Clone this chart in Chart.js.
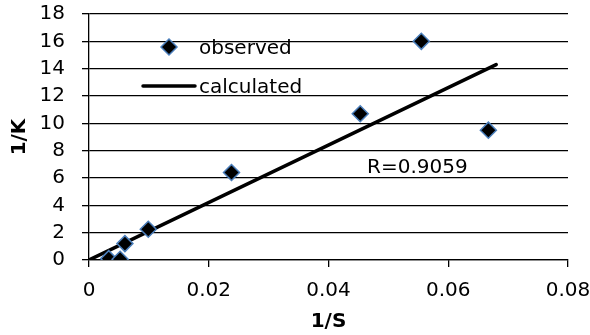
<!DOCTYPE html>
<html>
<head>
<meta charset="utf-8">
<script src="https://cdn.jsdelivr.net/npm/chart.js@4.4.1/dist/chart.umd.min.js"></script>
<style>
  html, body { margin: 0; padding: 0; background: #fff; }
  canvas { display: block; }
</style>
</head>
<body>
<canvas id="chart" width="590" height="335"></canvas>
<script>
// observed points (1/S, 1/K)
const obsX = [0.0033, 0.0052, 0.0060, 0.0099, 0.0238, 0.0453, 0.0555, 0.0667]
const obsY = [0.1, 0.05, 1.2, 2.25, 6.4, 10.7, 16.0, 9.5]
// calculated straight line
const fitX = [0, 0.068]
const fitY = [0, 14.3]
const xTicks = [0, 0.02, 0.04, 0.06, 0.08]
const yTicks = [0, 2, 4, 6, 8, 10, 12, 14, 16, 18]
const rText = "R=0.9059"

Chart.defaults.font.family = "'DejaVu Sans', sans-serif"
Chart.defaults.font.size = 20
Chart.defaults.color = "#000"

// legend + R label drawn inside the plot area
const insideLegend = {
    id: "insideLegend",
    afterDraw(chart) {
        const ctx = chart.ctx
        const obs = chart.data.datasets[0]
        const fit = chart.data.datasets[1]
        ctx.save()
        ctx.font = "20px 'DejaVu Sans', sans-serif"
        ctx.textAlign = "left"
        ctx.textBaseline = "alphabetic"

        // observed symbol
        ctx.fillStyle = obs.pointBackgroundColor
        ctx.strokeStyle = obs.pointBorderColor
        ctx.lineWidth = obs.pointBorderWidth
        Chart.helpers.drawPoint(ctx, {
            pointStyle: "rectRot",
            radius: obs.pointRadius,
            borderWidth: obs.pointBorderWidth
        }, 169, 47)

        ctx.fillStyle = "#000"
        ctx.fillText(obs.label, 199, 54)

        // calculated symbol
        ctx.beginPath()
        ctx.lineCap = "round"
        ctx.strokeStyle = fit.borderColor
        ctx.lineWidth = fit.borderWidth
        ctx.moveTo(143, 86)
        ctx.lineTo(195, 86)
        ctx.stroke()
        ctx.fillText(fit.label, 199, 93)

        ctx.fillText(rText, 367, 173)
        ctx.restore()
    }
}

new Chart(document.getElementById("chart"), {
    type: "scatter",
    data: {
        datasets: [{
            label: "observed",
            data: obsX.map((x, i) => ({x: x, y: obsY[i]})),
            pointStyle: "rectRot",
            pointRadius: 8,
            pointHoverRadius: 8,
            pointBorderWidth: 1.5,
            pointBackgroundColor: "#000",
            pointBorderColor: "#4a7ebb",
            showLine: false
        }, {
            label: "calculated",
            data: fitX.map((x, i) => ({x: x, y: fitY[i]})),
            showLine: true,
            borderColor: "#000",
            borderWidth: 3.5,
            borderCapStyle: "round",
            pointRadius: 0,
            pointHoverRadius: 0
        }]
    },
    options: {
        responsive: false,
        animation: false,
        devicePixelRatio: 1,
        layout: { padding: { left: 0, right: 22, top: 14, bottom: 0 } },
        plugins: {
            legend: { display: false },
            tooltip: { enabled: false }
        },
        scales: {
            x: {
                type: "linear",
                min: 0,
                max: 0.08,
                afterBuildTicks: (s) => { s.ticks = xTicks.map(v => ({value: v})) },
                afterFit: (s) => {
                    s.height = 75
                    s.paddingLeft = 0
                    s.paddingRight = 0
                },
                ticks: {
                    padding: 12,
                    autoSkip: false,
                    maxRotation: 0,
                    callback: (v) => String(v)
                },
                grid: {
                    drawOnChartArea: false,
                    color: "#000",
                    lineWidth: 1.3,
                    tickLength: 7
                },
                border: { color: "#000", width: 1.3 },
                title: {
                    display: true,
                    text: "1/S",
                    font: { weight: "bold", size: 20 },
                    padding: { top: 0, bottom: 1.5 }
                }
            },
            y: {
                type: "linear",
                min: 0,
                max: 18,
                afterBuildTicks: (s) => { s.ticks = yTicks.map(v => ({value: v})) },
                afterFit: (s) => {
                    s.width = 89
                    s.paddingTop = 0
                    s.paddingBottom = 0
                },
                ticks: { padding: 17, autoSkip: false },
                grid: {
                    color: "#000",
                    lineWidth: 1.3,
                    tickLength: 7
                },
                border: { color: "#000", width: 1.3 },
                title: {
                    display: true,
                    text: "1/K",
                    font: { weight: "bold", size: 20 },
                    padding: { top: 7.5, bottom: 0 }
                }
            }
        }
    },
    plugins: [insideLegend]
})
</script>
</body>
</html>
